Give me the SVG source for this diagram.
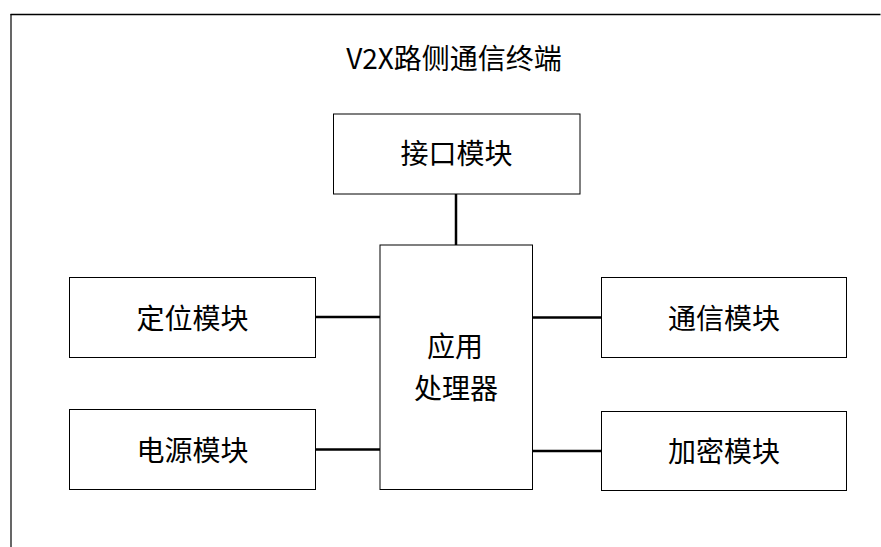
<svg xmlns="http://www.w3.org/2000/svg" width="881" height="547" viewBox="0 0 881 547">
<style>
.box{fill:#fff;stroke:#000;stroke-width:1}
.lbl{font-family:"Noto Sans CJK SC","Noto Sans",sans-serif;font-size:28px;fill:#000;text-anchor:middle}
.conn line{stroke:#000;stroke-width:2.5}
.frame line{stroke:#000}
</style>
<rect width="881" height="547" fill="#fff"/>
<g id="frame" class="frame">
<line x1="10.5" y1="14.5" x2="880.5" y2="14.5" stroke-width="1.5"/>
<line x1="11" y1="14" x2="11" y2="547" stroke-width="1.2" stroke="#555"/>
</g>
<text id="title" class="lbl" x="454" y="69">V2X路侧通信终端</text>
<g id="connectors" class="conn">
<line x1="456" y1="194" x2="456" y2="245"/>
<line x1="316" y1="317" x2="380" y2="317"/>
<line x1="316" y1="449.5" x2="380" y2="449.5"/>
<line x1="532.5" y1="317.5" x2="602" y2="317.5"/>
<line x1="532.5" y1="451" x2="602" y2="451"/>
</g>
<g id="interface">
<rect class="box" x="333.5" y="114" width="246.5" height="80"/>
<text class="lbl" x="456.5" y="164">接口模块</text>
</g>
<g id="processor">
<rect class="box" x="380" y="245" width="152.5" height="244.5"/>
<text class="lbl" x="455" y="356.5">应用</text>
<text class="lbl" x="456" y="399">处理器</text>
</g>
<g id="positioning">
<rect class="box" x="69.5" y="277.5" width="246" height="80"/>
<text class="lbl" x="192.5" y="328.5">定位模块</text>
</g>
<g id="power">
<rect class="box" x="69.5" y="409.5" width="246" height="80"/>
<text class="lbl" x="192.5" y="460.5">电源模块</text>
</g>
<g id="comm">
<rect class="box" x="601.5" y="277.5" width="245" height="80"/>
<text class="lbl" x="724" y="328.5">通信模块</text>
</g>
<g id="crypto">
<rect class="box" x="601.5" y="411.5" width="245" height="79"/>
<text class="lbl" x="724" y="462">加密模块</text>
</g>
</svg>
